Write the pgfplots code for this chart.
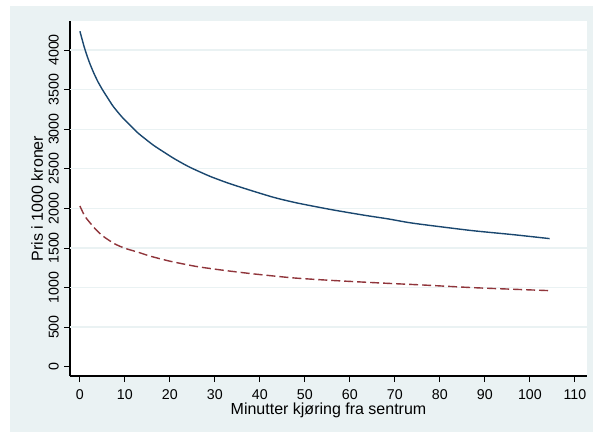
\documentclass[border=0pt]{standalone}
\usepackage{pgfplots}
\pgfplotsset{compat=1.18}
\usepackage{fontspec}
\setmainfont{Liberation Sans}
\definecolor{bgc}{RGB}{234,242,243}
\definecolor{stnavy}{RGB}{26,71,111}
\definecolor{stmaroon}{RGB}{144,53,59}
\begin{document}
\begin{tikzpicture}[x=1pt,y=1pt]
\useasboundingbox (0,0) rectangle (593,432);
\fill[bgc] (10,0) rectangle (593,426);
\begin{axis}[
  at={(70pt,56pt)}, anchor=south west,
  scale only axis, width=517pt, height=355pt,
  xmin=-2.2, xmax=112.7, ymin=-117, ymax=4366,
  axis x line*=bottom, axis y line*=left,
  axis line style={black, line width=1.1pt},
  axis background/.style={fill=white},
  xtick={0,10,...,110},
  ytick={0,500,...,4000},
  extra y ticks={500,1000,...,4000},
  extra y tick labels={},
  extra y tick style={ymajorgrids=true, major tick length=0pt, major grid style={bgc, line width=1.3pt}},
  tick align=outside,
  major tick length=6pt,
  tick style={black, line width=0.9pt},
  xtick pos=bottom, ytick pos=left,
  /pgf/number format/assume math mode=true,
  /pgf/number format/set thousands separator={},
  ticklabel style={font=\fontsize{14.2}{16}\selectfont},
  xticklabel style={anchor=north, inner sep=0pt},
  xticklabel shift=7pt,
  yticklabel style={rotate=90, anchor=south, inner sep=0pt},
  yticklabel shift=5pt,
  xlabel={Minutter kjøring fra sentrum},
  ylabel={Pris i 1000 kroner},
  every axis x label/.style={at={(axis description cs:0.5,-0.076)}, anchor=north, inner sep=0pt, font=\fontsize{16}{18}\selectfont},
  every axis y label/.style={at={(axis description cs:-0.052,0.5)}, rotate=90, anchor=south, inner sep=0pt, font=\fontsize{16}{18}\selectfont},
  clip=false,
]
\addplot[stnavy, line width=1.4pt, smooth, tension=0.4] coordinates {
(0,4237) (1,4030) (2,3860) (3,3720) (4,3600) (5,3500) (6,3410) (7.4,3288) (9.3,3157) (11.1,3052) (13,2947) (16.3,2799) (18.6,2713) (21.1,2623)
(24.4,2520) (28.9,2405) (33,2318) (37.4,2237) (43,2140) (48.1,2070) (55.6,1987) (63,1915) (68.5,1867)
(74.1,1812) (86.7,1722) (96.3,1668) (104.4,1618)
};
\addplot[stmaroon, line width=1.4pt, dash pattern=on 9pt off 4pt, smooth, tension=0.4] coordinates {
(0,2030) (1,1910) (1.85,1845) (3.3,1748) (4.4,1685) (5.6,1630) (7.8,1550) (10,1496) (13,1445) (15.6,1397) (20,1333) (25.9,1266)
(31.9,1218) (38.5,1173) (47.4,1122) (56.3,1089) (68.1,1054) (75.6,1034) (88.1,997) (104.4,961)
};
\end{axis}
\end{tikzpicture}
\end{document}
